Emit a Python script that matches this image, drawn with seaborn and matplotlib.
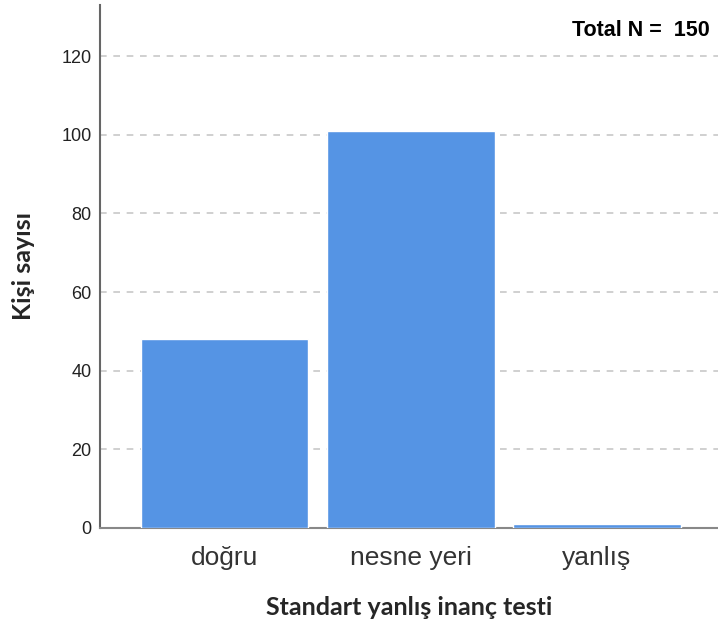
import matplotlib
matplotlib.use("Agg")
import matplotlib.pyplot as plt
import seaborn as sns
import pandas as pd

categories = ["doğru", "nesne yeri", "yanlış"]
counts = [48, 101, 1]
y_ticks = [0, 20, 40, 60, 80, 100, 120]
total_label = "Total N =  150"

df = pd.DataFrame({"kategori": categories, "sayi": counts})

sns.set_style("white")
plt.rcParams["font.family"] = ["Liberation Sans", "DejaVu Sans"]

fig = plt.figure(figsize=(7.18, 6.3), dpi=100)
ax = fig.add_axes([100 / 718, 102 / 630, 618 / 718, 523 / 630])

sns.barplot(data=df, x="kategori", y="sayi", color="#5594E4", saturation=1,
            width=0.9, ax=ax, zorder=3)

ax.set_xlim(-0.67, 2.65)
ax.set_ylim(0, 133)
ax.set_yticks(y_ticks)
ax.yaxis.grid(True, linestyle=(0, (4, 4)), color="#c8c8c8", linewidth=1.2)
ax.tick_params(axis="y", length=0, labelsize=13, pad=6, labelcolor="#222222")
ax.tick_params(axis="x", length=0, labelsize=19, pad=13, labelcolor="#333333")

for side in ["top", "right"]:
    ax.spines[side].set_visible(False)
ax.spines["left"].set_color("#666666")
ax.spines["left"].set_linewidth(1.5)
ax.spines["bottom"].set_color("#888888")
ax.spines["bottom"].set_linewidth(1.5)

ax.set_xlabel("Standart yanlış inanç testi", fontsize=18, fontweight="bold",
              family=["Lato", "DejaVu Sans"], labelpad=19)
ax.set_ylabel("Kişi sayısı", fontsize=18, fontweight="bold",
              family=["Lato", "DejaVu Sans"], labelpad=19)

ax.text(0.987, 0.952, total_label, transform=ax.transAxes, ha="right",
        va="center", fontsize=15.5, fontweight="bold", color="black")

fig.savefig("out.png", dpi=100)
